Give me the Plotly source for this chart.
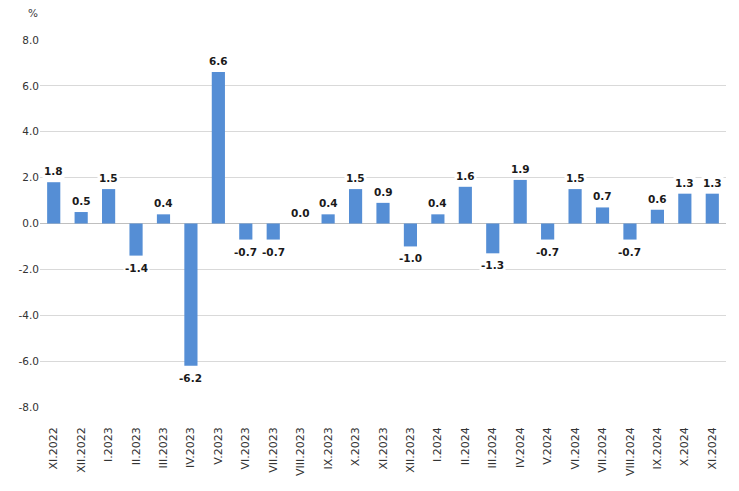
import plotly.graph_objects as go

months = [
    "XI.2022", "XII.2022", "I.2023", "II.2023", "III.2023", "IV.2023", "V.2023",
    "VI.2023", "VII.2023", "VIII.2023", "IX.2023", "X.2023", "XI.2023", "XII.2023",
    "I.2024", "II.2024", "III.2024", "IV.2024", "V.2024", "VI.2024", "VII.2024",
    "VIII.2024", "IX.2024", "X.2024", "XI.2024",
]
values = [
    1.8, 0.5, 1.5, -1.4, 0.4, -6.2, 6.6, -0.7, -0.7, 0.0, 0.4, 1.5, 0.9, -1.0,
    0.4, 1.6, -1.3, 1.9, -0.7, 1.5, 0.7, -0.7, 0.6, 1.3, 1.3,
]
y_ticks = [8, 6, 4, 2, 0, -2, -4, -6, -8]
y_tick_labels = ["8.0", "6.0", "4.0", "2.0", "0.0", "-2.0", "-4.0", "-6.0", "-8.0"]

fig = go.Figure(go.Bar(
    x=months,
    y=values,
    marker=dict(color="#558ed5", line=dict(width=0)),
    hoverinfo="x+y",
))

# value labels with white boxes so they sit over the gridlines
for m, v in zip(months, values):
    fig.add_annotation(
        x=m, y=v, text=f"<b>{v:.1f}</b>", showarrow=False,
        yshift=11 if v >= 0 else -12,
        bgcolor="white", borderpad=1,
        font=dict(family="DejaVu Sans", size=10.5, color="#1a1a1a"),
    )

fig.add_annotation(
    x=0, y=1, xref="paper", yref="paper", xanchor="right", yanchor="bottom",
    xshift=0, yshift=19, text="%", showarrow=False,
    font=dict(family="DejaVu Sans", size=10.5, color="#404040"),
)

# the page body adds 8px, so margins are offset to keep the plot area in place
fig.update_layout(
    width=739, height=491,
    margin=dict(l=32, r=21, t=32, b=92),
    paper_bgcolor="white", plot_bgcolor="white",
    bargap=0.52, showlegend=False,
    font=dict(family="DejaVu Sans", size=10.5, color="#404040"),
)
fig.update_xaxes(
    tickangle=-90, showgrid=False, showline=False, ticks="",
    automargin=False, ticklabelstandoff=17,
    tickfont=dict(family="DejaVu Sans", size=11, color="#333333"),
)
fig.update_yaxes(
    range=[-8, 8], tickvals=y_ticks, ticktext=y_tick_labels,
    gridcolor="#d9d9d9", gridwidth=1,
    zeroline=True, zerolinecolor="#bfbfbf", zerolinewidth=1,
    showline=False, ticks="", automargin=False,
    tickfont=dict(family="DejaVu Sans", size=10.5, color="#333333"),
)

fig.write_html("out.html")
